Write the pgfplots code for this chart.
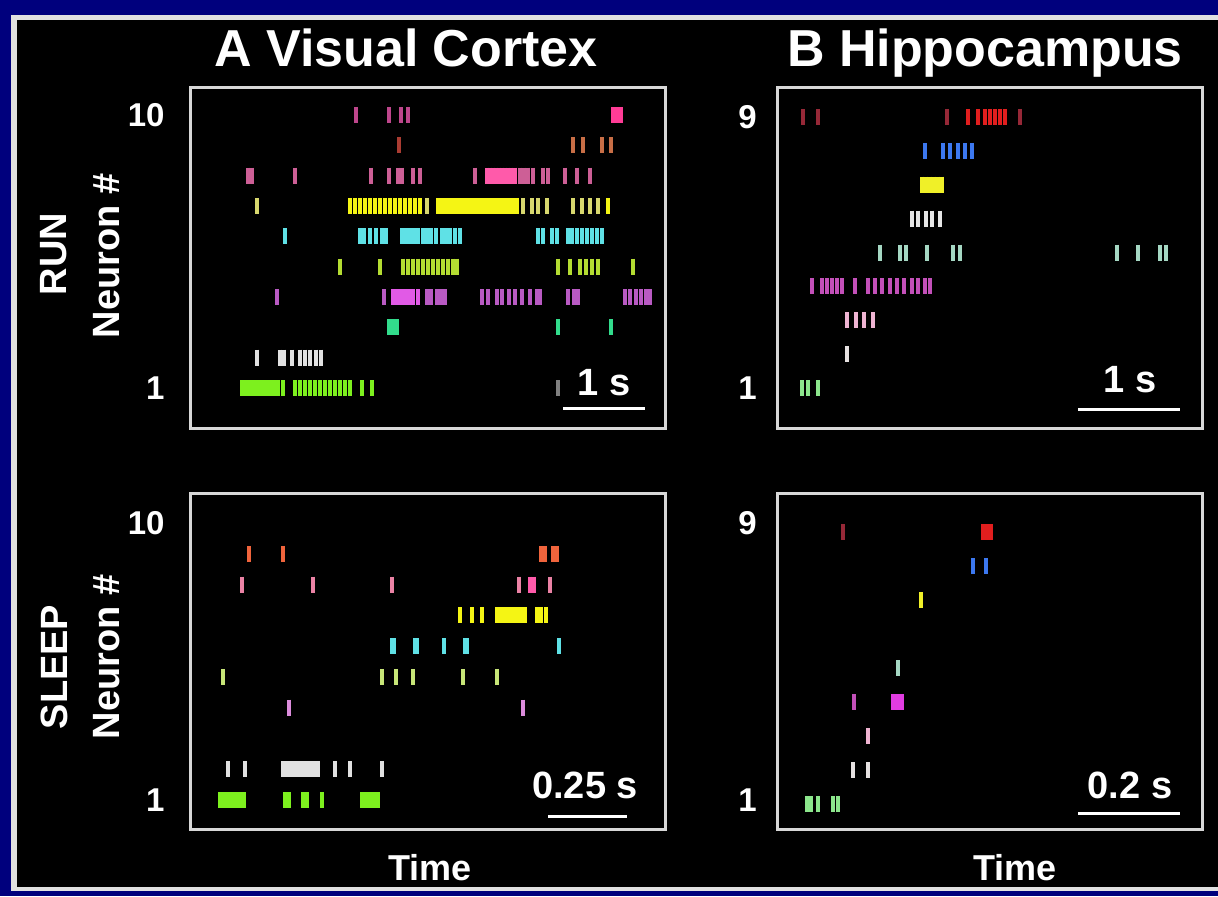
\documentclass[border=0pt]{standalone}
\usepackage{pgfplots}
\pgfplotsset{compat=1.18}
\usepackage{fontspec}
\setmainfont{Liberation Sans}

\definecolor{navy}{RGB}{0,0,125}
\definecolor{framew}{RGB}{225,225,225}
\definecolor{boxgray}{RGB}{215,215,215}
% visual cortex rows
\definecolor{a10}{RGB}{190,70,140}
\definecolor{a10h}{RGB}{255,60,150}
\definecolor{a9}{RGB}{200,110,70}
\definecolor{a9d}{RGB}{170,60,50}
\definecolor{a9s}{RGB}{240,100,60}
\definecolor{a8}{RGB}{205,95,150}
\definecolor{a8h}{RGB}{255,90,170}
\definecolor{a8s}{RGB}{235,130,165}
\definecolor{a7}{RGB}{245,245,20}
\definecolor{a7d}{RGB}{215,215,110}
\definecolor{a6}{RGB}{95,225,230}
\definecolor{a5}{RGB}{180,220,50}
\definecolor{a5s}{RGB}{200,230,120}
\definecolor{a4}{RGB}{185,90,195}
\definecolor{a4h}{RGB}{225,90,230}
\definecolor{a4s}{RGB}{220,140,220}
\definecolor{a3}{RGB}{50,220,140}
\definecolor{a2}{RGB}{225,225,225}
\definecolor{a1}{RGB}{125,240,30}
% hippocampus rows
\definecolor{b9}{RGB}{225,30,30}
\definecolor{b9d}{RGB}{150,40,55}
\definecolor{b8}{RGB}{60,120,240}
\definecolor{b7}{RGB}{240,240,40}
\definecolor{b6}{RGB}{230,230,230}
\definecolor{b5}{RGB}{165,215,195}
\definecolor{b4}{RGB}{195,80,185}
\definecolor{b4h}{RGB}{225,60,225}
\definecolor{b3}{RGB}{240,180,210}
\definecolor{b2}{RGB}{230,225,225}
\definecolor{b1}{RGB}{140,230,140}

\pgfplotsset{
  raster/.style={scale only axis, anchor=south west,
    axis background/.style={fill=black},
    axis line style={draw=boxgray,line width=1.5pt},
    xtick=\empty, major tick length=0pt, xmin=0, clip=false,
    yticklabel style={white, font=\bfseries\fontsize{16.5}{18}\selectfont, inner sep=0pt, anchor=east}},
  spk/.style={only marks, mark=|, mark size=4pt, line width=1.65pt},
}

\begin{document}
\begin{tikzpicture}
\begin{scope}[x=0.5pt,y=-0.5pt]
  \fill[navy] (0,0) rectangle (1218,896);
  \fill[framew] (11,15) rectangle (1218,891);
  \fill[black] (17,20) rectangle (1218,887);
\end{scope}

% ---------------- A RUN ----------------
\begin{axis}[raster, at={(95pt,-214pt)}, width=237.5pt, height=170.5pt,
  xmax=475, ymin=-0.319, ymax=10.923, ytick={1,10}, yticklabels={1,10},
  yticklabel style={xshift=-12.5pt}]
\addplot[spk,a10] coordinates {(166,10)(199,10)(211,10)(218,10)};
\addplot[spk,a10h] coordinates {(423,10)(426,10)(429,10)(431,10)};
\addplot[spk,a9d] coordinates {(209,9)};
\addplot[spk,a9] coordinates {(383,9)(393,9)(412,9)(421,9)};
\addplot[spk,a8] coordinates {(58,8)(62,8)(105,8)(181,8)(199,8)(208,8)(212,8)(223,8)(230,8)(285,8)(330,8)(334,8)(338,8)(343,8)(353,8)(358,8)(375,8)(387,8)(400,8)};
\addplot[spk,a8h] coordinates {(297,8)(300,8)(303,8)(306,8)(309,8)(312,8)(315,8)(318,8)(321,8)(325,8)};
\addplot[spk,a7d] coordinates {(67,7)(237,7)(333,7)(342,7)(348,7)(357,7)(383,7)(392,7)(400,7)(408,7)};
\addplot[spk,a7] coordinates {(160,7)(165,7)(170,7)(175,7)(180,7)(185,7)(190,7)(195,7)(200,7)(205,7)(210,7)(215,7)(220,7)(225,7)(230,7)
 (248,7)(252,7)(256,7)(260,7)(264,7)(268,7)(272,7)(276,7)(280,7)(284,7)(288,7)(292,7)(296,7)(300,7)(304,7)(308,7)(312,7)(316,7)(320,7)(324,7)(327,7)(418,7)};
\addplot[spk,a6] coordinates {(95,6)(170,6)(174,6)(180,6)(186,6)(192,6)(196,6)(212,6)(216,6)(220,6)(224,6)(228,6)(233,6)(237,6)(241,6)(246,6)(252,6)(256,6)(260,6)(265,6)(270,6)(348,6)(353,6)(362,6)(367,6)(378,6)(382,6)(387,6)(392,6)(397,6)(402,6)(407,6)(412,6)};
\addplot[spk,a5] coordinates {(150,5)(190,5)(213,5)(218,5)(223,5)(228,5)(233,5)(238,5)(243,5)(248,5)(253,5)(258,5)(263,5)(267,5)(368,5)(380,5)(390,5)(396,5)(402,5)(408,5)(443,5)};
\addplot[spk,a4] coordinates {(87,4)(194,4)(237,4)(241,4)(247,4)(251,4)(255,4)(292,4)(298,4)(307,4)(312,4)(319,4)(325,4)(332,4)(340,4)(347,4)(350,4)(378,4)(384,4)(388,4)(435,4)(440,4)(446,4)(451,4)(456,4)(460,4)};
\addplot[spk,a4h] coordinates {(203,4)(207,4)(211,4)(215,4)(219,4)(223,4)(228,4)};
\addplot[spk,a3] coordinates {(199,3)(203,3)(207,3)(368,3)(421,3)};
\addplot[spk,a2] coordinates {(67,2)(90,2)(94,2)(102,2)(110,2)(115,2)(120,2)(126,2)(131,2)};
\addplot[spk,a1] coordinates {(52,1)(56,1)(60,1)(64,1)(68,1)(72,1)(76,1)(80,1)(84,1)(88,1)(93,1)(105,1)(110,1)(115,1)(120,1)(125,1)(130,1)(135,1)(140,1)(145,1)(150,1)(155,1)(160,1)(172,1)(182,1)};
\addplot[spk,gray] coordinates {(368,1)};
\draw[white,line width=1.5pt] (axis cs:373,0.34) -- (axis cs:455,0.34);
\end{axis}

% ---------------- B RUN ----------------
\begin{axis}[raster, at={(388.5pt,-214pt)}, width=212.5pt, height=170.5pt,
  xmax=425, ymin=-0.18, ymax=9.885, ytick={1,9}, yticklabels={1,9},
  yticklabel style={xshift=-10pt}]
\addplot[spk,b9d] coordinates {(26,9)(41,9)(170,9)(243,9)};
\addplot[spk,b9] coordinates {(191,9)(201,9)(208,9)(213,9)(218,9)(223,9)(228,9)};
\addplot[spk,b8] coordinates {(148,8)(166,8)(173,8)(181,8)(188,8)(195,8)};
\addplot[spk,b7] coordinates {(145,7)(149,7)(153,7)(157,7)(161,7)(165,7)};
\addplot[spk,b6] coordinates {(135,6)(141,6)(149,6)(155,6)(163,6)};
\addplot[spk,b5] coordinates {(103,5)(123,5)(129,5)(150,5)(176,5)(183,5)(340,5)(361,5)(383,5)(389,5)};
\addplot[spk,b4] coordinates {(35,4)(45,4)(50,4)(55,4)(60,4)(65,4)(78,4)(91,4)(98,4)(105,4)(113,4)(120,4)(127,4)(135,4)(141,4)(148,4)(153,4)};
\addplot[spk,b3] coordinates {(70,3)(79,3)(87,3)(96,3)};
\addplot[spk,b2] coordinates {(70,2)};
\addplot[spk,b1] coordinates {(25,1)(31,1)(41,1)};
\draw[white,line width=1.5pt] (axis cs:301,0.38) -- (axis cs:403,0.38);
\end{axis}

% ---------------- A SLEEP ----------------
\begin{axis}[raster, at={(95pt,-414.5pt)}, width=237.5pt, height=168pt,
  xmax=475, ymin=0.058, ymax=10.975, ytick={1,10}, yticklabels={1,10},
  yticklabel style={xshift=-12.5pt}]
\addplot[spk,a9s] coordinates {(59,9)(93,9)(351,9)(355,9)(363,9)(367,9)};
\addplot[spk,a8s] coordinates {(52,8)(123,8)(202,8)(329,8)(360,8)};
\addplot[spk,a8h] coordinates {(340,8)(344,8)};
\addplot[spk,a7] coordinates {(270,7)(282,7)(292,7)(307,7)(311,7)(315,7)(319,7)(323,7)(327,7)(331,7)(335,7)(347,7)(351,7)(356,7)};
\addplot[spk,a6] coordinates {(202,6)(204,6)(225,6)(227,6)(254,6)(275,6)(277,6)(369,6)};
\addplot[spk,a5s] coordinates {(33,5)(192,5)(206,5)(223,5)(273,5)(307,5)};
\addplot[spk,a4s] coordinates {(99,4)(333,4)};
\addplot[spk,a2] coordinates {(38,2)(55,2)(93,2)(97,2)(101,2)(105,2)(109,2)(113,2)(117,2)(121,2)(125,2)(128,2)(145,2)(160,2)(192,2)};
\addplot[spk,a1] coordinates {(30,1)(34,1)(38,1)(42,1)(46,1)(50,1)(54,1)(95,1)(99,1)(113,1)(117,1)(132,1)(172,1)(176,1)(180,1)(184,1)(188,1)};
\draw[white,line width=1.5pt] (axis cs:358,0.48) -- (axis cs:437,0.48);
\end{axis}

% ---------------- B SLEEP ----------------
\begin{axis}[raster, at={(388.5pt,-414.5pt)}, width=212.5pt, height=168pt,
  xmax=425, ymin=0.265, ymax=10.147, ytick={1.12,9.26}, yticklabels={1,9},
  yticklabel style={xshift=-10pt}]
\addplot[spk,b9d] coordinates {(66,9)};
\addplot[spk,b9] coordinates {(206,9)(209,9)(212,9)(214,9)};
\addplot[spk,b8] coordinates {(196,8)(209,8)};
\addplot[spk,b7] coordinates {(144,7)};
\addplot[spk,b5] coordinates {(121,5)};
\addplot[spk,b4] coordinates {(77,4)};
\addplot[spk,b4h] coordinates {(116,4)(119,4)(122,4)(125,4)};
\addplot[spk,b3] coordinates {(91,3)};
\addplot[spk,b2] coordinates {(76,2)(91,2)};
\addplot[spk,b1] coordinates {(30,1)(34,1)(41,1)(56,1)(61,1)};
\draw[white,line width=1.5pt] (axis cs:301,0.735) -- (axis cs:403,0.735);
\end{axis}

% ---------------- labels ----------------
\begin{scope}[x=0.5pt,y=-0.5pt, every node/.style={white, font=\bfseries}]
  \node[anchor=base, font=\bfseries\fontsize{26}{30}\selectfont] at (406,66) {A Visual Cortex};
  \node[anchor=base, font=\bfseries\fontsize{26}{30}\selectfont] at (985,66) {B Hippocampus};
  \node[rotate=90, font=\bfseries\fontsize{19}{22}\selectfont] at (54,254) {RUN};
  \node[rotate=90, font=\bfseries\fontsize{19}{22}\selectfont] at (107,256) {Neuron \#};
  \node[rotate=90, font=\bfseries\fontsize{19}{22}\selectfont] at (54,667) {SLEEP};
  \node[rotate=90, font=\bfseries\fontsize{19}{22}\selectfont] at (107,657) {Neuron \#};
  \node[font=\bfseries\fontsize{18}{21}\selectfont] at (430,868) {Time};
  \node[font=\bfseries\fontsize{18}{21}\selectfont] at (1015,868) {Time};
  \node[font=\bfseries\fontsize{19}{22}\selectfont] at (604,383) {1 s};
  \node[font=\bfseries\fontsize{19}{22}\selectfont] at (1130,380) {1 s};
  \node[font=\bfseries\fontsize{19}{22}\selectfont] at (585,785) {0.25 s};
  \node[font=\bfseries\fontsize{19}{22}\selectfont] at (1130,785) {0.2 s};
\end{scope}
\end{tikzpicture}
\end{document}
